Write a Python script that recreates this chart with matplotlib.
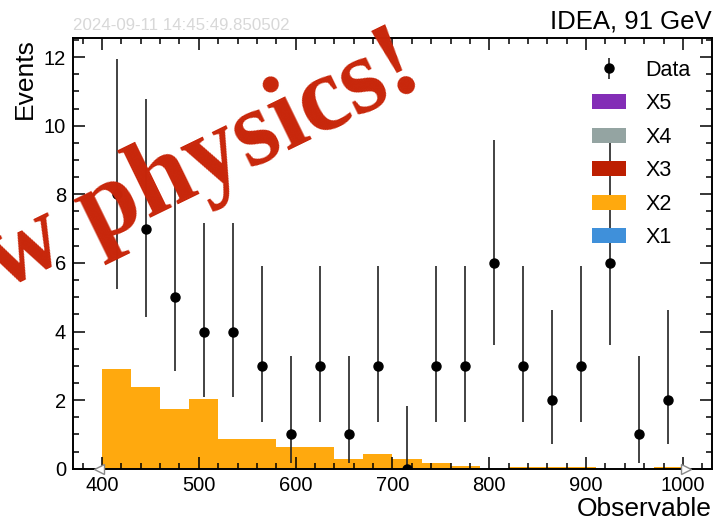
import numpy as np
import matplotlib
matplotlib.use("Agg")
import matplotlib.pyplot as plt
from matplotlib.ticker import MultipleLocator

plt.rcParams['font.family'] = ['Liberation Sans', 'DejaVu Sans']

# binning: 20 bins of 30 between 400 and 1000
bin_lo, bin_hi, n_bins = 400, 1000, 20
edges = np.linspace(bin_lo, bin_hi, n_bins + 1)
centers = 0.5 * (edges[1:] + edges[:-1])

# data counts and asymmetric poisson errors (68% intervals)
data_counts = [8, 7, 5, 4, 4, 3, 1, 3, 1, 3, 0, 3, 3, 6, 3, 2, 3, 6, 1, 2]
err_lo = [2.768, 2.581, 2.160, 1.914, 1.914, 1.633, 0.827, 1.633, 0.827, 1.633,
          0.0, 1.633, 1.633, 2.380, 1.633, 1.292, 1.633, 2.380, 0.827, 1.292]
err_hi = [3.945, 3.770, 3.382, 3.162, 3.162, 2.918, 2.300, 2.918, 2.300, 2.918,
          1.841, 2.918, 2.918, 3.583, 2.918, 2.638, 2.918, 3.583, 2.300, 2.638]

# stacked backgrounds
x1 = [0.0] * 20
x2 = [2.90, 2.38, 1.75, 2.03, 0.87, 0.87, 0.64, 0.64, 0.28, 0.43,
      0.27, 0.17, 0.08, 0.0, 0.06, 0.06, 0.06, 0.0, 0.0, 0.05]
x3 = [0.0] * 20
x4 = [0.0] * 20
x5 = [0.0] * 20
labels = ['X1', 'X2', 'X3', 'X4', 'X5']
colors = ['#3f90da', '#ffa90e', '#bd1f01', '#94a4a2', '#832db6']

fig = plt.figure(figsize=(7.14, 5.28), dpi=100)
ax = fig.add_axes([0.1022, 0.1123, 0.895, 0.8152])

bottom = np.zeros(n_bins)
patches = []
for vals, lab, col in zip([x1, x2, x3, x4, x5], labels, colors):
    vals = np.array(vals)
    p = ax.stairs(bottom + vals, edges, baseline=bottom.copy(), fill=True,
                  color=col, linewidth=0, label=lab)
    patches.append(p)
    bottom = bottom + vals

eb = ax.errorbar(centers, data_counts, yerr=[err_lo, err_hi], fmt='o',
                 color='black', ecolor='#222222', markersize=6.5, elinewidth=1.2,
                 capsize=0, label='Data', zorder=3)

# flow hints
ax.plot([bin_lo - 3], [0], marker='<', markersize=7, mfc='white', mec='#888888',
        mew=1.0, clip_on=False, zorder=4, linestyle='none')
ax.plot([bin_hi + 3], [0], marker='>', markersize=7, mfc='white', mec='#888888',
        mew=1.0, clip_on=False, zorder=4, linestyle='none')

ax.set_xlim(370, 1030)
ax.set_ylim(0, 12.55)
ax.xaxis.set_major_locator(MultipleLocator(100))
ax.xaxis.set_minor_locator(MultipleLocator(20))
ax.yaxis.set_major_locator(MultipleLocator(2))
ax.yaxis.set_minor_locator(MultipleLocator(0.5))
ax.tick_params(which='both', direction='in', top=True, right=True,
               labelsize=14.5, width=1.1)
ax.tick_params(which='major', length=8.5, pad=5)
ax.tick_params(which='minor', length=4.3)
for s in ax.spines.values():
    s.set_linewidth(1.4)

ax.set_xlabel('Observable', loc='right', fontsize=19, labelpad=2)
ax.set_ylabel('Events', loc='top', fontsize=19, labelpad=5)

ax.text(0, 1.012, '2024-09-11 14:45:49.850502', transform=ax.transAxes,
        ha='left', va='bottom', fontsize=12.2, color='#d8d8d8')
ax.text(1.0, 1.012, 'IDEA, 91 GeV', transform=ax.transAxes,
        ha='right', va='bottom', fontsize=18.5)

handles = [eb] + patches[::-1]
leg_labels = ['Data'] + labels[::-1]
ax.legend(handles, leg_labels, loc='upper right', frameon=False, fontsize=15.5,
          handlelength=1.58, handletextpad=0.9, labelspacing=0.58,
          borderaxespad=0.6, borderpad=0.4)

fig.text(146 / 714, 1 - 191 / 528, 'New physics!', fontsize=77,
         family=['Liberation Serif', 'DejaVu Serif'], fontweight='bold',
         color='#c8260a', rotation=26, rotation_mode='anchor',
         ha='center', va='center')

fig.savefig('out.png', dpi=100)
